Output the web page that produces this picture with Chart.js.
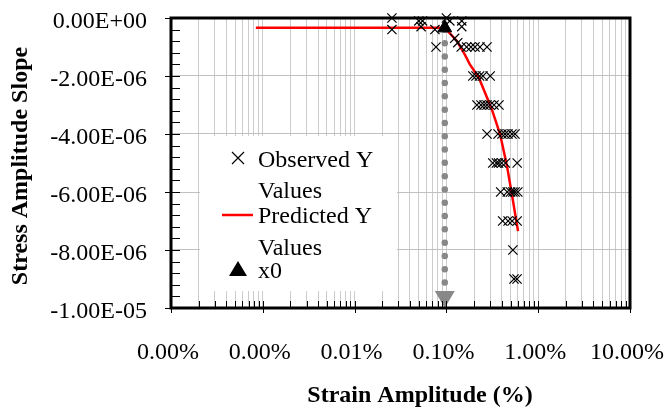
<!DOCTYPE html>
<html>
<head>
<meta charset="utf-8">
<script src="https://cdn.jsdelivr.net/npm/chart.js@4.4.1/dist/chart.umd.min.js"></script>
<style>
  html, body { margin: 0; padding: 0; background: #fff; }
</style>
</head>
<body>
<canvas id="myChart" width="668" height="411"></canvas>
<script>
// strain amplitude as a fraction (axis shows it as %), slope of stress amplitude
const observedStrain = [
  2.55e-4, 2.55e-4, 5.0e-4, 5.3e-4, 5.5e-4, 1.0e-3, 1.09e-3, 1.47e-3, 1.47e-3,
  7.5e-4, 7.7e-4, 1.23e-3, 1.33e-3,
  1.45e-3, 1.66e-3, 1.85e-3, 2.05e-3, 2.32e-3, 2.77e-3,
  1.94e-3, 2.1e-3, 2.3e-3, 2.5e-3, 3.0e-3,
  2.15e-3, 2.38e-3, 2.57e-3, 2.77e-3, 2.99e-3, 3.3e-3, 3.74e-3,
  2.77e-3, 3.65e-3, 4.03e-3, 4.35e-3, 4.69e-3, 5.18e-3, 5.59e-3,
  3.2e-3, 3.5e-3, 3.7e-3, 4.0e-3, 4.4e-3, 5.9e-3,
  3.9e-3, 4.6e-3, 5.0e-3, 5.3e-3, 5.6e-3, 6.0e-3,
  4.1e-3, 4.7e-3, 5.2e-3, 5.9e-3,
  5.3e-3,
  5.45e-3, 5.88e-3
];
const observedSlope = [
  0, -4e-7, -1e-7, -3e-7, -1e-7, 0, -1e-7, -1e-7, -3e-7,
  -4e-7, -1.0e-6, -7e-7, -8.5e-7,
  -1e-6, -1e-6, -1e-6, -1e-6, -1e-6, -1e-6,
  -2e-6, -2e-6, -2e-6, -2e-6, -2e-6,
  -3e-6, -3e-6, -3e-6, -3e-6, -3e-6, -3e-6, -3e-6,
  -4e-6, -4e-6, -4e-6, -4e-6, -4e-6, -4e-6, -4e-6,
  -5e-6, -5e-6, -5e-6, -5e-6, -5e-6, -5e-6,
  -6e-6, -6e-6, -6e-6, -6e-6, -6e-6, -6e-6,
  -7e-6, -7e-6, -7e-6, -7e-6,
  -8e-6,
  -9e-6, -9e-6
];

const predictedStrain = [8.4e-6, 9.6e-4, 1.3e-3, 1.6e-3, 1.8e-3, 2.25e-3, 2.84e-3, 3.14e-3, 3.84e-3, 4.57e-3, 5.18e-3, 6.03e-3];
const predictedSlope = [-3.4e-7, -3.4e-7, -7.9e-7, -1.28e-6, -1.6e-6, -2.05e-6, -2.83e-6, -3.17e-6, -4.0e-6, -5.1e-6, -6.1e-6, -7.35e-6];

const x0Strain = [9.6e-4];
const x0Slope = [-3.4e-7];

const xTickValues = [1e-6, 1e-5, 1e-4, 1e-3, 1e-2, 1e-1];
const xTickLabels = ["0.00%", "0.00%", "0.01%", "0.10%", "1.00%", "10.00%"];
const yTickValues = [-1e-5, -8e-6, -6e-6, -4e-6, -2e-6, 0];
const yTickLabels = ["-1.00E-05", "-8.00E-06", "-6.00E-06", "-4.00E-06", "-2.00E-06", "0.00E+00"];

const legendItems = [
  { lines: ["Observed Y", "Values"], kind: "cross" },
  { lines: ["Predicted Y", "Values"], kind: "line" },
  { lines: ["x0"], kind: "triangle" }
];

const serif = "'Liberation Serif', 'Times New Roman', serif";

// every log gridline: 1..9 in each decade
const xGridValues = [];
xTickValues.forEach((d, i) => {
  if (i === xTickValues.length - 1) { xGridValues.push(d); return; }
  for (let k = 1; k <= 9; k++) xGridValues.push(k * d);
});

function toPoints(xs, ys) {
  return xs.map((x, i) => ({ x: x, y: ys[i] }));
}

// keep tick labels from pushing the plot area inwards
function noOverflow(scale) {
  scale.paddingTop = 0;
  scale.paddingBottom = 0;
  scale.paddingLeft = 0;
  scale.paddingRight = 0;
}

// gray dotted drop line from x0 down to the axis, ending in an arrowhead
const dropLine = {
  id: "dropLine",
  beforeDatasetsDraw(chart) {
    const { ctx, chartArea, scales } = chart;
    const px = scales.x.getPixelForValue(x0Strain[0]);
    const py = scales.y.getPixelForValue(x0Slope[0]);
    const bottom = chartArea.bottom;
    ctx.save();
    ctx.strokeStyle = "#888888";
    ctx.fillStyle = "#888888";
    ctx.lineWidth = 6.5;
    ctx.lineCap = "round";
    ctx.setLineDash([0, 13.3]);
    ctx.beginPath();
    ctx.moveTo(px, py + 2);
    ctx.lineTo(px, bottom - 20);
    ctx.stroke();
    ctx.setLineDash([]);
    ctx.beginPath();
    ctx.moveTo(px - 10, bottom - 17);
    ctx.lineTo(px + 10, bottom - 17);
    ctx.lineTo(px, bottom);
    ctx.closePath();
    ctx.fill();
    ctx.restore();
  }
};

// white legend box inside the plot, text wrapped onto two lines
const boxLegend = {
  id: "boxLegend",
  afterDatasetsDraw(chart) {
    const ctx = chart.ctx;
    const left = 200, top = 136, right = 397, bottom = 291;
    ctx.save();
    ctx.fillStyle = "#ffffff";
    ctx.fillRect(left, top, right - left, bottom - top);
    ctx.fillStyle = "#000";
    ctx.font = "24px " + serif;
    ctx.textBaseline = "alphabetic";
    const baselines = [[167, 198], [223, 255], [278]];
    legendItems.forEach((item, i) => {
      const b = baselines[i];
      item.lines.forEach((t, j) => ctx.fillText(t, 258, b[j]));
      const cy = b[0] - 9;
      if (item.kind === "cross") {
        ctx.strokeStyle = "#000";
        ctx.lineWidth = 1.2;
        ctx.beginPath();
        ctx.moveTo(232, cy - 6); ctx.lineTo(244, cy + 6);
        ctx.moveTo(244, cy - 6); ctx.lineTo(232, cy + 6);
        ctx.stroke();
      } else if (item.kind === "line") {
        ctx.strokeStyle = "#ff0000";
        ctx.lineWidth = 2.5;
        ctx.beginPath();
        ctx.moveTo(222, cy + 1); ctx.lineTo(253, cy + 1);
        ctx.stroke();
      } else {
        ctx.beginPath();
        ctx.moveTo(238, cy - 8);
        ctx.lineTo(247, cy + 7);
        ctx.lineTo(229, cy + 7);
        ctx.closePath();
        ctx.fill();
      }
    });
    ctx.restore();
  }
};

// plot frame, tick marks and axis titles
const frame = {
  id: "frame",
  afterDraw(chart) {
    const { ctx, chartArea, scales } = chart;
    const a = chartArea;
    ctx.save();
    ctx.strokeStyle = "#000";
    ctx.lineWidth = 1;
    ctx.beginPath();
    xGridValues.forEach(v => {
      const x = Math.round(scales.x.getPixelForValue(v)) + 0.5;
      const major = xTickValues.some(t => Math.abs(t - v) / t < 1e-9);
      ctx.moveTo(x, a.bottom - 7);
      ctx.lineTo(x, a.bottom + (major ? 5 : 0));
    });
    const yMin = scales.y.min, yMax = scales.y.max;
    for (let k = 0; k <= 25; k++) {
      const v = yMin + (yMax - yMin) * k / 25;
      const y = Math.round(scales.y.getPixelForValue(v)) + 0.5;
      ctx.moveTo(a.left, y);
      ctx.lineTo(a.left + 9, y);
      if (k % 5 === 0) {
        ctx.moveTo(a.left - 6, y);
        ctx.lineTo(a.left, y);
      }
    }
    ctx.stroke();
    ctx.lineWidth = 3;
    ctx.strokeRect(a.left, a.top, a.right - a.left, a.bottom - a.top);

    ctx.fillStyle = "#000";
    ctx.font = "bold 24px " + serif;
    ctx.textAlign = "center";
    ctx.textBaseline = "middle";
    ctx.fillText("Strain Amplitude (%)", 420, 396);
    ctx.translate(21, 166);
    ctx.rotate(-Math.PI / 2);
    ctx.fillText("Stress Amplitude Slope", 0, 0);
    ctx.restore();
  }
};

new Chart("myChart", {
  type: "scatter",
  data: {
    datasets: [
      {
        label: "Observed Y Values",
        data: toPoints(observedStrain, observedSlope),
        pointStyle: "crossRot",
        pointRadius: 6.5,
        borderColor: "#000",
        backgroundColor: "#000",
        pointBorderWidth: 1.2,
        showLine: false,
        clip: false,
        order: 2
      },
      {
        label: "Predicted Y Values",
        data: toPoints(predictedStrain, predictedSlope),
        showLine: true,
        borderColor: "#ff0000",
        borderWidth: 2.5,
        pointRadius: 0,
        fill: false,
        order: 3
      },
      {
        label: "x0",
        data: toPoints(x0Strain, x0Slope),
        pointStyle: "triangle",
        pointRadius: 8,
        backgroundColor: "#000",
        borderColor: "#000",
        showLine: false,
        clip: false,
        order: 1
      }
    ]
  },
  options: {
    responsive: false,
    animation: false,
    layout: { padding: { top: 18, right: 38, left: 0, bottom: 0 } },
    plugins: {
      legend: { display: false },
      tooltip: { enabled: false }
    },
    scales: {
      x: {
        type: "logarithmic",
        min: 1e-6,
        max: 1e-1,
        afterBuildTicks: (scale) => {
          scale.ticks = xGridValues.map(v => ({ value: v }));
        },
        afterFit: (scale) => { scale.height = 103; noOverflow(scale); },
        grid: { color: "#cccccc", lineWidth: 1, drawTicks: false },
        border: { display: false },
        ticks: {
          autoSkip: false,
          maxRotation: 0,
          minRotation: 0,
          padding: 30,
          labelOffset: -3,
          color: "#000",
          font: { family: serif, size: 24 },
          callback: (value) => {
            const i = xTickValues.findIndex(t => Math.abs(t - value) / t < 1e-9);
            return i >= 0 ? xTickLabels[i] : "";
          }
        }
      },
      y: {
        type: "linear",
        min: -1e-5,
        max: 0,
        afterBuildTicks: (scale) => {
          scale.ticks = yTickValues.map(v => ({ value: v }));
        },
        afterFit: (scale) => { scale.width = 171; noOverflow(scale); },
        grid: { color: "#c0c0c0", lineWidth: 1, drawTicks: false },
        border: { display: false },
        ticks: {
          padding: 24,
          labelOffset: 4,
          color: "#000",
          font: { family: serif, size: 24 },
          callback: (value, index) => yTickLabels[index]
        }
      }
    }
  },
  plugins: [dropLine, boxLegend, frame]
});
</script>
</body>
</html>
